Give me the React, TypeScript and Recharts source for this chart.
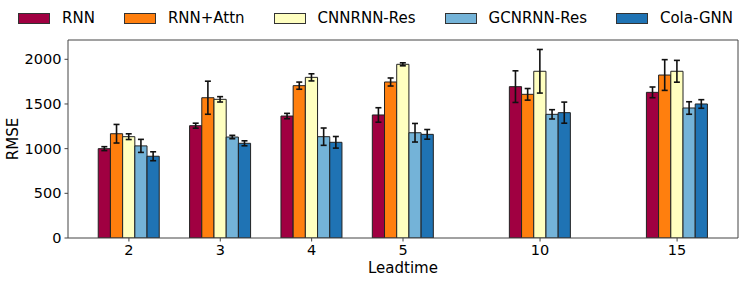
import { ComposedChart, Bar, ErrorBar, XAxis, YAxis, ReferenceLine, Legend } from "recharts";

const leadtimes = ["2", "3", "4", "5", "10", "15"];
// group centres along the x axis (10 and 15 are set further apart)
const xPos = [0, 1, 2, 3, 4.5, 6];
const models = ["RNN", "RNN+Attn", "CNNRNN-Res", "GCNRNN-Res", "Cola-GNN"];
const colors = ["#a00041", "#ff7f0e", "#ffffc0", "#74b3d8", "#1f73b4"];

const rnn = [1000, 1257, 1365, 1377, 1694, 1630];
const rnnErr = [22, 28, 30, 81, 177, 60];
const rnnAttn = [1167, 1570, 1705, 1746, 1608, 1824];
const rnnAttnErr = [104, 185, 40, 45, 65, 172];
const cnnrnnRes = [1134, 1552, 1798, 1944, 1866, 1866];
const cnnrnnResErr = [32, 30, 40, 17, 244, 122];
const gcnrnnRes = [1031, 1130, 1134, 1178, 1384, 1455];
const gcnrnnResErr = [73, 19, 97, 104, 52, 70];
const colaGnn = [915, 1060, 1071, 1160, 1403, 1500];
const colaGnnErr = [50, 28, 65, 54, 118, 48];

const yTicks = [0, 500, 1000, 1500, 2000];
const xDomain: [number, number] = [-0.6667, 6.6667];
const yMax = 2216;

const values = [rnn, rnnAttn, cnnrnnRes, gcnrnnRes, colaGnn];
const errors = [rnnErr, rnnAttnErr, cnnrnnResErr, gcnrnnResErr, colaGnnErr];

const data = leadtimes.map((lt, i) => {
  const row: Record<string, number | string> = { lt, pos: xPos[i] };
  values.forEach((v, k) => {
    row[`m${k}`] = v[i];
    row[`e${k}`] = errors[k][i];
  });
  return row;
});

const font = "'DejaVu Sans', sans-serif";
const labelStyle = { fontSize: 15, fill: "#000", fontFamily: font };

const renderLegend = () => (
  <div
    style={{
      height: 36,
      width: 747,
      display: "flex",
      paddingLeft: 18,
      boxSizing: "border-box",
      fontFamily: font,
      fontSize: 15,
      color: "#000",
      whiteSpace: "nowrap",
    }}
  >
    {models.map((m, i) => (
      <div key={m} style={{ display: "flex", alignItems: "center", height: 28, marginRight: 29, flexShrink: 0 }}>
        <span
          style={{
            display: "inline-block",
            width: 30,
            height: 9,
            background: colors[i],
            border: "1px solid #333",
            marginRight: 12,
          }}
        />
        <span>{m}</span>
      </div>
    ))}
  </div>
);

export default function App() {
  return (
    <div style={{ position: "absolute", left: 0, top: 0, background: "#fff" }}>
      <ComposedChart
        width={747}
        height={283}
        data={data}
        margin={{ top: 4, right: 9, bottom: 0, left: 8 }}
        barGap={0}
        barSize={12.2}
      >
        <Legend verticalAlign="top" content={renderLegend} wrapperStyle={{ left: 0, width: 747 }} />
        <XAxis
          dataKey="pos"
          type="number"
          domain={xDomain}
          ticks={xPos}
          allowDataOverflow
          tickFormatter={(v) => leadtimes[xPos.indexOf(v)] ?? ""}
          height={45}
          tickSize={3.5}
          tickMargin={3.5}
          stroke="#444"
          tick={{ fontSize: 14.5, fill: "#000", fontFamily: font }}
          label={{ value: "Leadtime", position: "insideBottom", offset: 10, style: labelStyle }}
        />
        <YAxis
          type="number"
          domain={[0, yMax]}
          ticks={yTicks}
          allowDataOverflow
          width={60}
          tickSize={3.5}
          tickMargin={3}
          stroke="#444"
          tick={{ fontSize: 14.5, fill: "#000", fontFamily: font }}
          label={{
            value: "RMSE",
            angle: -90,
            position: "insideLeft",
            offset: 5,
            style: { ...labelStyle, textAnchor: "middle" },
          }}
        />
        <ReferenceLine y={yMax} stroke="#444" />
        <ReferenceLine x={xDomain[1]} stroke="#444" />
        {models.map((m, k) => (
          <Bar
            key={m}
            dataKey={`m${k}`}
            name={m}
            fill={colors[k]}
            stroke="#222"
            strokeWidth={1}
            isAnimationActive={false}
          >
            <ErrorBar dataKey={`e${k}`} direction="y" width={3} stroke="#111" strokeWidth={1.6} />
          </Bar>
        ))}
      </ComposedChart>
    </div>
  );
}
